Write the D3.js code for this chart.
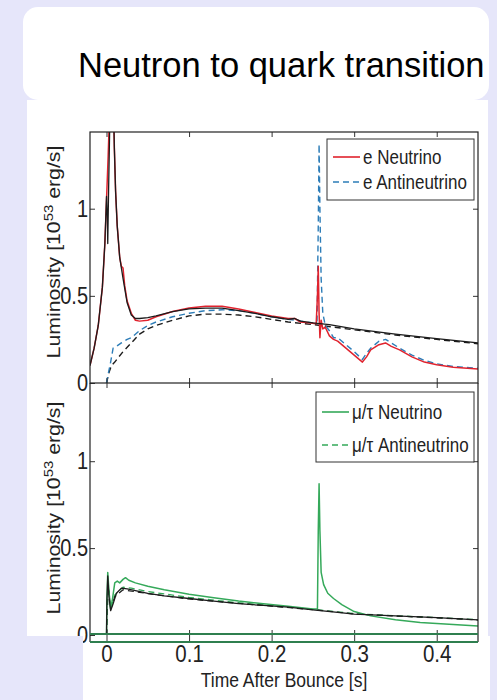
<!DOCTYPE html>
<html>
<head>
<meta charset="utf-8">
<script src="https://cdn.jsdelivr.net/npm/d3@7"></script>
<style>
body{margin:0;background:#e6e6fa;}
svg{display:block;}
text{font-family:"Liberation Sans",Arial,Helvetica,sans-serif;}
</style>
</head>
<body>
<svg id="myGraph" width="497" height="700"></svg>
<script>
// upper panel : electron flavour (time [s], luminosity [10^53 erg/s])
var eNuTime = [-0.02,-0.015,-0.01,-0.005,-0.002,0,0.002,0.004,0.006,0.008,0.0095,0.011,0.013,0.016,0.018,0.02,0.022,0.025,0.03,0.035,0.04,0.05,0.06,0.08,0.1,0.12,0.14,0.16,0.18,0.2,0.22,0.228,0.235,0.245,0.254,0.2555,0.2565,0.2575,0.2585,0.26,0.262,0.265,0.27,0.275,0.28,0.285,0.29,0.3,0.305,0.31,0.315,0.32,0.33,0.338,0.345,0.355,0.37,0.385,0.4,0.42,0.45];
var eNuLum  = [0.1,0.2,0.33,0.55,0.8,1.05,1.3,1.6,1.9,1.7,1.35,1.1,0.9,0.72,0.67,0.66,0.56,0.47,0.4,0.36,0.355,0.36,0.38,0.41,0.43,0.44,0.44,0.425,0.405,0.385,0.37,0.37,0.35,0.345,0.34,0.5,0.67,0.4,0.26,0.36,0.31,0.32,0.27,0.25,0.24,0.22,0.2,0.16,0.14,0.12,0.15,0.19,0.22,0.23,0.21,0.19,0.15,0.12,0.105,0.09,0.08];

var eAntiTime = [0,0.002,0.005,0.008,0.012,0.018,0.025,0.03,0.04,0.05,0.06,0.08,0.1,0.12,0.14,0.16,0.18,0.2,0.22,0.23,0.24,0.25,0.255,0.2565,0.2575,0.2585,0.26,0.262,0.265,0.27,0.275,0.28,0.29,0.3,0.31,0.315,0.32,0.33,0.338,0.345,0.355,0.37,0.385,0.4,0.42,0.45];
var eAntiLum  = [0,0.05,0.12,0.2,0.21,0.23,0.25,0.26,0.3,0.33,0.35,0.38,0.4,0.415,0.42,0.415,0.4,0.38,0.365,0.36,0.35,0.345,0.35,0.9,1.37,1.0,0.6,0.4,0.33,0.3,0.26,0.26,0.22,0.18,0.135,0.17,0.2,0.24,0.25,0.23,0.2,0.16,0.13,0.11,0.095,0.085];

// reference model (black) for the electron flavour
var eRefTime = [-0.02,-0.015,-0.01,-0.005,-0.002,-0.0005,0,0.001,0.0015,0.0025,0.004,0.006,0.008,0.0095,0.011,0.013,0.016,0.02,0.025,0.03,0.035,0.04,0.05,0.06,0.08,0.1,0.12,0.14,0.16,0.18,0.2,0.22,0.228,0.235,0.25,0.27,0.3,0.35,0.4,0.45];
var eRefLum  = [0.1,0.2,0.33,0.55,0.8,1.0,1.07,0.95,0.8,1.1,1.5,1.9,1.7,1.35,1.1,0.9,0.72,0.6,0.46,0.39,0.37,0.37,0.375,0.385,0.41,0.425,0.43,0.43,0.415,0.4,0.38,0.365,0.37,0.355,0.345,0.335,0.31,0.28,0.255,0.23];
var eRefAntiTime = [0,0.003,0.006,0.01,0.015,0.02,0.03,0.04,0.05,0.06,0.08,0.1,0.12,0.14,0.16,0.18,0.2,0.22,0.24,0.26,0.3,0.35,0.4,0.45];
var eRefAntiLum  = [0,0.06,0.1,0.12,0.15,0.18,0.23,0.28,0.31,0.33,0.36,0.385,0.395,0.395,0.39,0.38,0.365,0.35,0.34,0.33,0.305,0.275,0.25,0.225];

// lower panel : mu/tau flavour
var muNuTime = [0,0.0005,0.0015,0.003,0.005,0.007,0.01,0.013,0.016,0.02,0.023,0.027,0.035,0.05,0.07,0.1,0.13,0.16,0.19,0.22,0.25,0.2555,0.2565,0.2575,0.2585,0.26,0.263,0.268,0.275,0.285,0.3,0.32,0.35,0.38,0.45];
var muNuLum  = [0,0.2,0.36,0.25,0.15,0.2,0.3,0.31,0.3,0.32,0.33,0.315,0.3,0.28,0.26,0.235,0.215,0.195,0.18,0.165,0.15,0.15,0.6,0.87,0.6,0.36,0.29,0.24,0.21,0.175,0.135,0.11,0.088,0.072,0.052];
var muAntiTime = [0,0.002,0.005,0.01,0.02,0.03,0.05,0.1,0.15,0.2,0.25,0.3,0.35,0.4,0.45];
var muAntiLum  = [0,0.3,0.15,0.23,0.275,0.27,0.25,0.216,0.19,0.168,0.148,0.123,0.111,0.1,0.088];
var muRefTime = [0,0.0005,0.0015,0.003,0.005,0.008,0.012,0.018,0.025,0.035,0.05,0.07,0.1,0.13,0.16,0.19,0.22,0.25,0.28,0.3,0.35,0.4,0.45];
var muRefLum  = [0,0.2,0.34,0.22,0.14,0.18,0.24,0.27,0.265,0.255,0.24,0.225,0.21,0.195,0.18,0.17,0.16,0.145,0.13,0.12,0.11,0.1,0.087];
var muRefAntiTime = [0,0.002,0.005,0.01,0.02,0.05,0.1,0.15,0.2,0.25,0.3,0.35,0.4,0.45];
var muRefAntiLum  = [0,0.28,0.15,0.22,0.26,0.238,0.207,0.186,0.166,0.146,0.121,0.109,0.099,0.086];

var xTickValues = [0, 0.1, 0.2, 0.3, 0.4];
var yTickValues = [0, 0.5, 1];
var upperLegend = ["e Neutrino", "e Antineutrino"];
var lowerLegend = ["\u03bc/\u03c4 Neutrino", "\u03bc/\u03c4 Antineutrino"];

window.addEventListener("load", function(){

	var svg = d3.select("#myGraph");
	var bg = "#e6e6fa";
	var cRed = "#e0232e", cBlue = "#2d7db8", cGreen = "#35a95a", cBlack = "#1c1c1c";
	var stretch = "scale(1,1.18)";	// figure text looks vertically stretched

	// slide boxes
	svg.append("rect").attr("x",23).attr("y",7).attr("width",466).attr("height",93)
		.attr("rx",15).attr("fill","#fff");
	svg.append("text").attr("x",78).attr("y",77).attr("font-size",34.5).attr("fill","#000")
		.text("Neutron to quark transition");
	svg.append("rect").attr("x",27).attr("y",100).attr("width",461).attr("height",536).attr("fill","#fff");
	svg.append("rect").attr("x",83).attr("y",636).attr("width",407).attr("height",64).attr("fill","#fff");

	var x = d3.scaleLinear().domain([-0.02, 0.45]).range([90, 478]);
	var yTop = d3.scaleLinear().domain([0, 1.44]).range([383, 132]);
	var yBot = d3.scaleLinear().domain([0, 1.45]).range([635, 383]);

	// clip areas
	var defs = svg.append("defs");
	defs.append("clipPath").attr("id","clipTop").append("rect")
		.attr("x",90).attr("y",132).attr("width",388).attr("height",251);
	defs.append("clipPath").attr("id","clipBot").append("rect")
		.attr("x",90).attr("y",383).attr("width",388).attr("height",252);

	function drawLine(g, yScale, ts, ls, color, width, dash){
		var line = d3.line().x(function(d){ return x(d[0]); }).y(function(d){ return yScale(d[1]); });
		g.append("path").datum(d3.zip(ts, ls))
			.attr("d", line).attr("fill","none")
			.attr("stroke", color).attr("stroke-width", width)
			.attr("stroke-linejoin","round")
			.attr("stroke-dasharray", dash ? "6,4" : null);
	}

	var gTop = svg.append("g").attr("clip-path","url(#clipTop)");
	drawLine(gTop, yTop, eRefAntiTime, eRefAntiLum, cBlack, 1.4, true);
	drawLine(gTop, yTop, eAntiTime, eAntiLum, cBlue, 1.4, true);
	drawLine(gTop, yTop, eNuTime, eNuLum, cRed, 1.5, false);
	drawLine(gTop, yTop, eRefTime, eRefLum, cBlack, 1.3, false);

	var gBot = svg.append("g").attr("clip-path","url(#clipBot)");
	drawLine(gBot, yBot, muAntiTime, muAntiLum, cGreen, 1.3, true);
	drawLine(gBot, yBot, muRefAntiTime, muRefAntiLum, cBlack, 1.2, true);
	drawLine(gBot, yBot, muNuTime, muNuLum, cGreen, 1.5, false);
	drawLine(gBot, yBot, muRefTime, muRefLum, cBlack, 1.3, false);

	// axes
	function noDomain(g){ g.select(".domain").remove(); g.selectAll("line").attr("stroke","#333"); }

	[yTop, yBot].forEach(function(ys){
		svg.append("g").attr("transform","translate(90,0)")
			.call(d3.axisLeft(ys).tickValues(yTickValues).tickSize(-5).tickPadding(2).tickFormat(d3.format("~g")))
			.call(noDomain)
			.call(function(g){
				g.selectAll("text").attr("font-size",20).attr("fill","#222")
					.attr("font-family",null).attr("transform",stretch);
			});
		svg.append("g").attr("transform","translate(478,0)")
			.call(d3.axisRight(ys).tickValues([0.5,1]).tickSize(-5).tickFormat(""))
			.call(noDomain);
	});
	svg.append("g").attr("transform","translate(0,132)")
		.call(d3.axisTop(x).tickValues(xTickValues).tickSize(-5).tickFormat("")).call(noDomain);
	svg.append("g").attr("transform","translate(0,383)")
		.call(d3.axisBottom(x).tickValues(xTickValues).tickSize(-5).tickFormat("")).call(noDomain);
	svg.append("g").attr("transform","translate(0,383)")
		.call(d3.axisTop(x).tickValues(xTickValues).tickSize(-5).tickFormat("")).call(noDomain);
	svg.append("g").attr("transform","translate(0,642)")
		.call(d3.axisBottom(x).tickValues(xTickValues).tickSize(-12).tickFormat(d3.format("~g")))
		.call(noDomain)
		.call(function(g){
			g.selectAll("text").attr("y",null).attr("dy",null).attr("font-size",20.5)
				.attr("fill","#222").attr("font-family",null)
				.attr("transform","translate(0,20) " + stretch);
		});

	// frames
	svg.append("rect").attr("x",90).attr("y",132).attr("width",388).attr("height",251)
		.attr("fill","none").attr("stroke","#222").attr("stroke-width",1.2);
	svg.append("path").attr("d","M90,383V642M478,383V642")
		.attr("fill","none").attr("stroke","#222").attr("stroke-width",1.2);
	svg.append("line").attr("x1",x.range()[0]).attr("x2",x.range()[1])
		.attr("y1",yBot(0)-1).attr("y2",yBot(0)-1).attr("stroke","#2f7f4f").attr("stroke-width",2);
	svg.append("line").attr("x1",90).attr("x2",478).attr("y1",642).attr("y2",642)
		.attr("stroke","#2f7f4f").attr("stroke-width",2);

	// axis titles
	[[252, "Top"], [508, "Bot"]].forEach(function(p){
		var t = svg.append("text").attr("text-anchor","middle").attr("font-size",18.5).attr("fill","#222")
			.attr("transform","translate(60," + p[0] + ") rotate(-90) scale(1.15,1)");
		t.append("tspan").text("Luminosity [10");
		t.append("tspan").attr("dy",-7).attr("font-size",13).text("53");
		t.append("tspan").attr("dy",7).text(" erg/s]");
	});
	svg.append("text").attr("text-anchor","middle").attr("font-size",17.5).attr("fill","#222")
		.attr("transform","translate(284,687) " + stretch)
		.text("Time After Bounce [s]");

	// legends
	function legend(box, rowsY, names, colors, dashes){
		svg.append("rect").attr("x",box[0]).attr("y",box[1]).attr("width",box[2]).attr("height",box[3])
			.attr("fill","#fff").attr("stroke","#333").attr("stroke-width",1);
		names.forEach(function(n, i){
			svg.append("line").attr("x1",box[0]+6).attr("x2",box[0]+33)
				.attr("y1",rowsY[i]).attr("y2",rowsY[i])
				.attr("stroke",colors[i]).attr("stroke-width",1.6)
				.attr("stroke-dasharray", dashes[i] ? "6,4" : null);
			svg.append("text").attr("font-size",17).attr("fill","#222")
				.attr("transform","translate(" + (box[0]+36) + "," + (rowsY[i]+7) + ") " + stretch)
				.text(names[i]);
		});
	}
	legend([327,139,147,61], [157,182], upperLegend, [cRed, cBlue], [false, true]);
	legend([316,392,158,70], [412,445], lowerLegend, [cGreen, cGreen], [false, true]);

	// the slide crops the bottom-left corner of the figure
	svg.append("rect").attr("x",0).attr("y",636).attr("width",83).attr("height",64).attr("fill",bg);

});
</script>
</body>
</html>
